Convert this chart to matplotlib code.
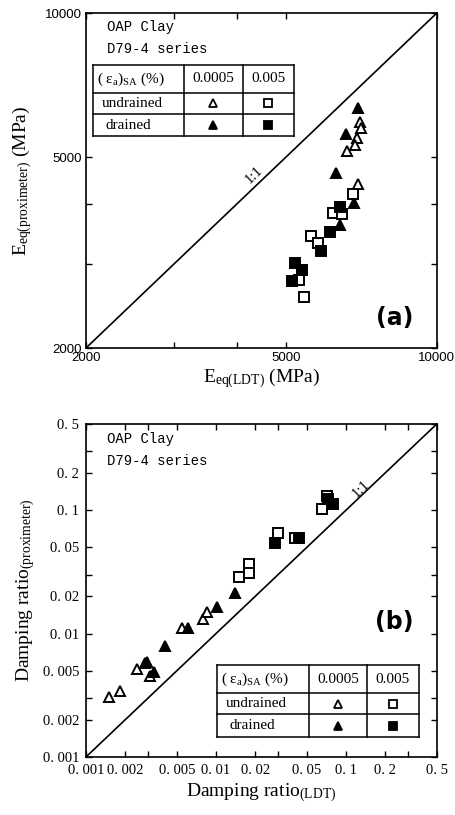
import matplotlib

matplotlib.use("Agg")
import matplotlib.pyplot as plt

plt.rcParams["font.family"] = ["Liberation Serif", "DejaVu Serif"]
plt.rcParams["mathtext.fontset"] = "custom"
plt.rcParams["mathtext.rm"] = "Liberation Serif"
plt.rcParams["mathtext.it"] = "Liberation Serif:italic"

# (a) equivalent Young's modulus, MPa: (LDT, proximeter)
a_und_0005_x = [7020, 7060, 6920, 6860, 6610, 6970]
a_und_0005_y = [5920, 5750, 5480, 5300, 5160, 4390]
a_dr_0005_x = [6970, 6580, 6290, 6830, 6410]
a_dr_0005_y = [6350, 5590, 4630, 4020, 3610]
a_und_005_x = [6810, 6220, 6480, 5610, 5800, 5320, 5430]
a_und_005_y = [4200, 3830, 3800, 3420, 3320, 2770, 2550]
a_dr_005_x = [6410, 6120, 5890, 5210, 5380, 5140]
a_dr_005_y = [3940, 3490, 3190, 3010, 2910, 2760]

# (b) damping ratio: (LDT, proximeter)
b_und_0005_x = [0.00151, 0.00183, 0.00245, 0.0031, 0.0055, 0.0080, 0.0085]
b_und_0005_y = [0.00308, 0.00343, 0.00514, 0.00456, 0.0112, 0.0131, 0.0150]
b_dr_0005_x = [0.00284, 0.00296, 0.00335, 0.00405, 0.0061, 0.0101, 0.0140]
b_dr_0005_y = [0.00575, 0.00585, 0.00486, 0.0080, 0.0110, 0.0163, 0.0215]
b_und_005_x = [0.0151, 0.0180, 0.0180, 0.0301, 0.0405, 0.0649, 0.0709]
b_und_005_y = [0.0289, 0.0366, 0.0308, 0.0650, 0.0592, 0.102, 0.130]
b_dr_005_x = [0.0284, 0.0437, 0.0797, 0.0726]
b_dr_005_y = [0.0545, 0.0592, 0.1116, 0.1230]

a_ticks = [2000, 3000, 4000, 5000, 10000]
a_labels = ["2000", "", "", "5000", "10000"]
b_ticks = [0.001, 0.002, 0.003, 0.005, 0.01, 0.02, 0.03, 0.05, 0.1, 0.2, 0.3, 0.5]
b_labels = ["0. 001", "0. 002", "", "0. 005", "0. 01", "0. 02", "",
            "0. 05", "0. 1", "0. 2", "", "0. 5"]

TABLE_HEAD = ["( ε$_{\\rm a}$)$_{\\rm SA}$ (%)", "0.0005", "0.005"]
ROWS = ["undrained", "drained"]

fig = plt.figure(figsize=(4.55, 8.15), dpi=100)
ax_a = fig.add_axes([0.189, 0.573, 0.771, 0.411])
ax_b = fig.add_axes([0.189, 0.0712, 0.771, 0.4086])


def style_axes(ax, lo, hi, ticks, labels, tick_font, tick_size, pad):
    ax.set_xscale("log")
    ax.set_yscale("log")
    ax.set_xlim(lo, hi)
    ax.set_ylim(lo, hi)
    ax.set_xticks(ticks, labels=labels)
    ax.set_yticks(ticks, labels=labels)
    ax.minorticks_off()
    ax.tick_params(which="both", direction="in", length=4, width=1,
                   top=True, right=True, pad=pad)
    for lab in ax.get_xticklabels() + ax.get_yticklabels():
        lab.set_family(tick_font)
        lab.set_fontsize(tick_size)
    for sp in ax.spines.values():
        sp.set_linewidth(1.2)
    ax.plot([lo, hi], [lo, hi], color="black", lw=1.2)


def draw_points(ax, und1, dr1, und2, dr2):
    kw = dict(ls="none", mec="black", mew=1.4, zorder=3, clip_on=False)
    ax.plot(*und1, marker="^", ms=7, mfc="white", **kw)
    ax.plot(*dr1, marker="^", ms=7, mfc="black", **kw)
    ax.plot(*und2, marker="s", ms=6.5, mfc="white", **kw)
    ax.plot(*dr2, marker="s", ms=6.5, mfc="black", **kw)


def draw_table(ax, xs, ys):
    # xs: column edges, ys: row edges (top to bottom), in axes fraction
    tr = ax.transAxes
    kw = dict(color="black", lw=1.1, transform=tr, clip_on=False, zorder=4)
    ax.fill_between([xs[0], xs[-1]], ys[-1], ys[0], color="white",
                    transform=tr, zorder=3)
    for y in ys:
        ax.plot([xs[0], xs[-1]], [y, y], **kw)
    for x in xs:
        ax.plot([x, x], [ys[0], ys[-1]], **kw)
    cy = [(ys[i] + ys[i + 1]) / 2 for i in range(3)]
    cx = [(xs[i] + xs[i + 1]) / 2 for i in range(3)]
    ax.text(xs[0] + 0.012, cy[0], TABLE_HEAD[0], transform=tr, fontsize=11,
            ha="left", va="center", zorder=5)
    ax.text(cx[1], cy[0], TABLE_HEAD[1], transform=tr, fontsize=11,
            ha="center", va="center", zorder=5)
    ax.text(cx[2], cy[0], TABLE_HEAD[2], transform=tr, fontsize=11,
            ha="center", va="center", zorder=5)
    ax.text(xs[0] + 0.025, cy[1], ROWS[0], transform=tr, fontsize=11,
            ha="left", va="center", zorder=5)
    ax.text(xs[0] + 0.035, cy[2], ROWS[1], transform=tr, fontsize=11,
            ha="left", va="center", zorder=5)
    mk = dict(transform=tr, clip_on=False, zorder=5, mec="black", mew=1.3)
    ax.plot(cx[1], cy[1], marker="^", ms=6, mfc="white", **mk)
    ax.plot(cx[2], cy[1], marker="s", ms=5.5, mfc="white", **mk)
    ax.plot(cx[1], cy[2], marker="^", ms=6, mfc="black", **mk)
    ax.plot(cx[2], cy[2], marker="s", ms=5.5, mfc="black", **mk)


def draw_caption(ax, y0):
    ax.text(0.06, y0, "OAP Clay", transform=ax.transAxes, family="Liberation Mono",
            fontsize=10, va="center")
    ax.text(0.06, y0 - 0.066, "D79-4 series", transform=ax.transAxes,
            family="Liberation Mono", fontsize=10, va="center")


# (a)
style_axes(ax_a, 2000, 10000, a_ticks, a_labels, "Liberation Sans", 9.5, 3)
draw_points(ax_a, (a_und_0005_x, a_und_0005_y), (a_dr_0005_x, a_dr_0005_y),
            (a_und_005_x, a_und_005_y), (a_dr_005_x, a_dr_005_y))
draw_caption(ax_a, 0.958)
draw_table(ax_a, [0.020, 0.279, 0.447, 0.593], [0.845, 0.762, 0.698, 0.633])
ax_a.text(0.478, 0.518, "1:1", transform=ax_a.transAxes, rotation=44,
          fontsize=10.5, ha="center", va="center")
ax_a.text(0.88, 0.09, "(a)", transform=ax_a.transAxes, family="DejaVu Sans",
          fontweight="bold", fontsize=17, ha="center", va="center")
ax_a.set_xlabel(r"E$_{\rm eq(LDT)}$ (MPa)", fontsize=14, labelpad=2)
ax_a.set_ylabel(r"E$_{\rm eq(proximeter)}$ (MPa)", fontsize=14, labelpad=8)

# (b)
style_axes(ax_b, 0.001, 0.5, b_ticks, b_labels, "Liberation Serif", 10.5, 5)
draw_points(ax_b, (b_und_0005_x, b_und_0005_y), (b_dr_0005_x, b_dr_0005_y),
            (b_und_005_x, b_und_005_y), (b_dr_005_x, b_dr_005_y))
draw_caption(ax_b, 0.955)
draw_table(ax_b, [0.373, 0.635, 0.801, 0.949], [0.276, 0.192, 0.129, 0.060])
ax_b.text(0.783, 0.805, "1:1", transform=ax_b.transAxes, rotation=44,
          fontsize=10.5, ha="center", va="center")
ax_b.text(0.88, 0.404, "(b)", transform=ax_b.transAxes, family="DejaVu Sans",
          fontweight="bold", fontsize=17, ha="center", va="center")
ax_b.set_xlabel(r"Damping ratio$_{\rm (LDT)}$", fontsize=14, labelpad=3)
ax_b.set_ylabel(r"Damping ratio$_{\rm (proximeter)}$", fontsize=14, labelpad=4)

fig.savefig("out.png", dpi=100)
plt.close(fig)
